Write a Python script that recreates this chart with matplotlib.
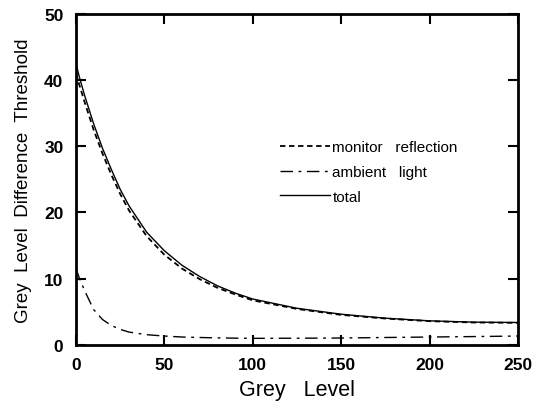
import numpy as np
import matplotlib
matplotlib.use('Agg')
import matplotlib.pyplot as plt

plt.rcParams['font.family'] = ['Liberation Sans', 'DejaVu Sans']

# grey level samples
grey = [0, 2, 5, 10, 15, 20, 25, 30, 40, 50, 60, 70, 80, 90, 100, 125, 150, 175, 200, 225, 250]

monitor_reflection = [41.0, 39.2, 36.6, 32.5, 28.9, 25.7, 22.8, 20.3, 16.4, 13.6, 11.5, 9.9, 8.6, 7.6,
                      6.7, 5.4, 4.5, 3.95, 3.55, 3.35, 3.3]
ambient_light = [11.5, 10.0, 8.1, 5.3, 3.8, 2.9, 2.3, 1.9, 1.5, 1.3, 1.15, 1.08, 1.02, 0.98,
                 0.95, 0.97, 1.0, 1.08, 1.15, 1.22, 1.3]
total = [42.5, 40.4, 37.6, 33.4, 29.7, 26.5, 23.5, 21.0, 17.0, 14.2, 12.0, 10.3, 8.9, 7.8,
         6.9, 5.5, 4.6, 4.0, 3.6, 3.4, 3.35]

xticks = [0, 50, 100, 150, 200, 250]
yticks = [0, 10, 20, 30, 40, 50]

fig = plt.figure(figsize=(5.37, 4.10), dpi=100)
ax = fig.add_axes([0.1415, 0.157, 0.823, 0.806])

ax.plot(grey, monitor_reflection, color='black', linestyle=(0, (3, 2)), linewidth=1.3,
        label='monitor   reflection')
ax.plot(grey, ambient_light, color='black', linestyle=(0, (9, 4, 2, 4)), linewidth=1.0,
        label='ambient   light')
ax.plot(grey, total, color='black', linestyle='-', linewidth=1.0, label='total')

ax.set_xlim(0, 250)
ax.set_ylim(0, 50)
ax.set_xticks(xticks)
ax.set_yticks(yticks)
ax.tick_params(direction='in', length=7, width=1.5, top=True, right=True,
               labelsize=12.5, pad=9)
for lab in ax.get_xticklabels() + ax.get_yticklabels():
    lab.set_fontweight('semibold')
for s in ax.spines.values():
    s.set_linewidth(2)

ax.set_xlabel('Grey   Level', fontsize=15.5, labelpad=5)
ax.set_ylabel('Grey  Level  Difference  Threshold', fontsize=13.5, labelpad=9)

leg = ax.legend(loc='upper left', bbox_to_anchor=(0.43, 0.66), frameon=False,
                handlelength=3.3, handletextpad=0.15, labelspacing=0.7, fontsize=11)

fig.savefig('out.png', dpi=100)
